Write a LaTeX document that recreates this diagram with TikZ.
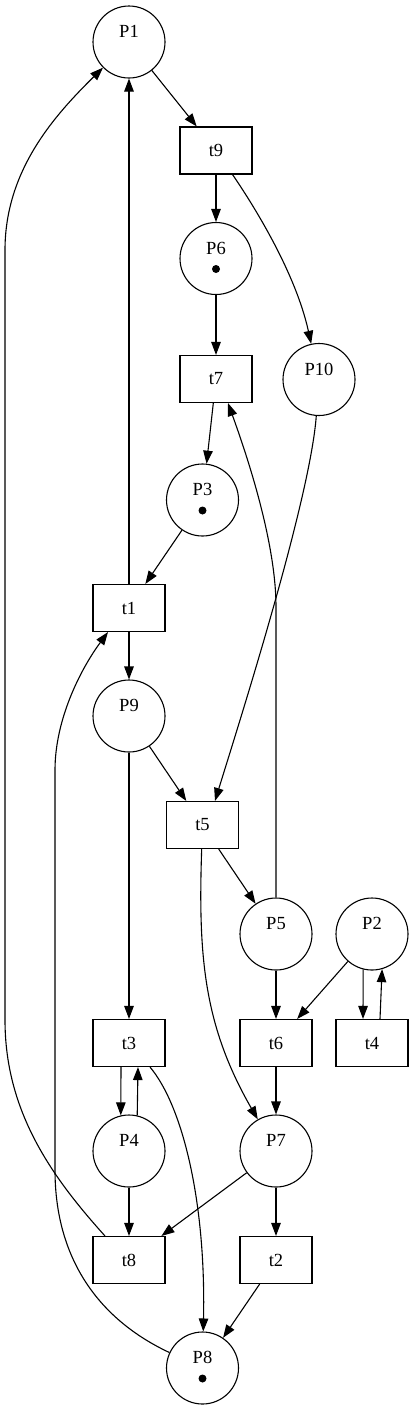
\documentclass[tikz,border=0pt]{standalone}
\usepackage{fontspec}
\setmainfont{Liberation Serif}
\usetikzlibrary{arrows.meta,calc}
\begin{document}
\begin{tikzpicture}[x=1pt,y=-1pt,
  place/.style={draw,circle,minimum size=72pt,inner sep=0pt,line width=1.1pt},
  trans/.style={draw,rectangle,minimum width=72pt,minimum height=47pt,inner sep=0pt,line width=1.1pt,font=\fontsize{18.5}{20}\selectfont},
  plabel/.style={inner sep=0pt,font=\fontsize{18.5}{20}\selectfont},
  token/.style={circle,fill=black,inner sep=0pt,minimum size=8pt},
  arr/.style={line width=1.1pt,-{Triangle[length=13pt,width=9.5pt]}}]
\useasboundingbox (0,0) rectangle (413,1409);
% places
\node[place] (P1) at (129,42) {};
\node[place] (P6) at (216,258.5) {};
\node[place] (P10) at (319,379.5) {};
\node[place] (P3) at (202.5,500) {};
\node[place] (P9) at (129,716) {};
\node[place] (P5) at (276,934) {};
\node[place] (P2) at (372,934) {};
\node[place] (P4) at (129,1151) {};
\node[place] (P7) at (276,1151) {};
\node[place] (P8) at (202.5,1368) {};
% place labels
\foreach \p in {P1,P6,P10,P3,P9,P5,P2,P4,P7,P8}{
  \node[plabel] (\p lab) at ([yshift=10.5pt]\p.center) {\p};
}
% tokens
\node[token] (P6tok) at ([yshift=-10.5pt]P6.center) {};
\node[token] (P3tok) at ([yshift=-10.5pt]P3.center) {};
\node[token] (P8tok) at ([yshift=-10.5pt]P8.center) {};
% transitions
\node[trans] (t9) at (216,150.5) {t9};
\node[trans] (t7) at (216,379) {t7};
\node[trans] (t1) at (129,608) {t1};
\node[trans] (t5) at (202.5,825) {t5};
\node[trans] (t3) at (129,1043) {t3};
\node[trans] (t6) at (276,1043) {t6};
\node[trans] (t4) at (372,1043) {t4};
\node[trans] (t8) at (129,1260) {t8};
\node[trans] (t2) at (276,1260) {t2};
% arcs
\draw[arr] (P1) -- (t9);
\draw[arr] (t9) -- (P6);
\draw[arr] (t9) .. controls (250,200) and (295,270) .. (P10);
\draw[arr] (P6) -- (t7);
\draw[arr] (t7) -- (P3);
\draw[arr] (P3) -- (t1);
\draw[arr] (t1) -- (P1);
\draw[arr] (t1) -- (P9);
\draw[arr] (P9) -- (t5);
\draw[arr] (P9) -- (t3);
\draw[arr] (P10) .. controls (310,500) and (240,720) .. ([xshift=12.5pt]t5.north);
\draw[arr] (t5) -- (P5);
\draw[arr] (t5) .. controls (198,957) and (204,1026) .. (P7);
\draw[arr] (P5.north) -- (276,607) .. controls (276,540) and (245,450) .. ([xshift=12pt]t7.south);
\draw[arr] (P5) -- (t6);
\draw[arr] (P2) -- (t6);
\draw[arr] (P2.-104) -- ([xshift=-9pt]t4.north);
\draw[arr] ([xshift=8pt]t4.north) -- (P2.-74);
\draw[arr] ([xshift=-8pt]t3.south) -- (P4.103);
\draw[arr] (P4.77) -- ([xshift=9pt]t3.south);
\draw[arr] ([xshift=21pt]t3.south) .. controls (182,1105) and (206,1200) .. (P8);
\draw[arr] (t6) -- (P7);
\draw[arr] (P7) -- (t8);
\draw[arr] (P7) -- (t2);
\draw[arr] (P4) -- (t8);
\draw[arr] (t2) -- (P8);
\draw[arr] ([xshift=-24pt]t8.north) .. controls (50,1175) and (5,1110) .. (5,1020) -- (5,250) .. controls (5,170) and (55,115) .. (P1);
\draw[arr] (P8) .. controls (100,1320) and (55,1260) .. (55,1170) -- (55,770) .. controls (55,720) and (80,670) .. ([xshift=-21pt]t1.south);
\end{tikzpicture}
\end{document}
